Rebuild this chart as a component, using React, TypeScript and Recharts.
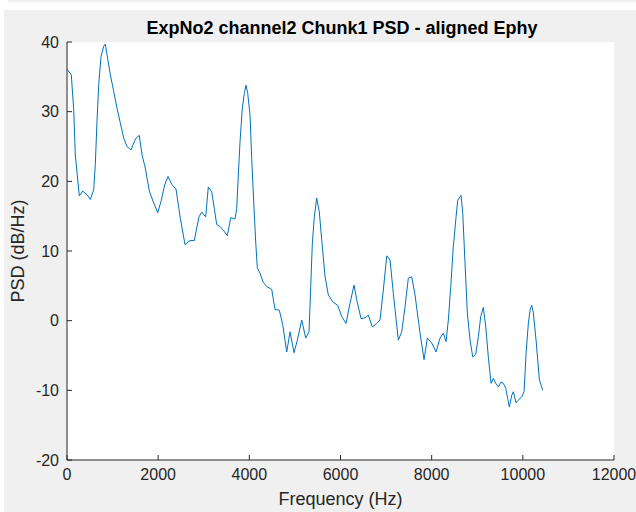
import { LineChart, Line, XAxis, YAxis, Label } from "recharts";

const freqHz = [
  0, 94, 147, 182, 270, 344, 439, 511, 586, 621, 658, 696, 746, 805, 840, 878, 950, 1025, 1097, 1169,
  1244, 1316, 1404, 1463, 1514, 1586, 1646, 1718, 1806, 1902, 1990, 2062, 2144, 2216, 2304, 2391, 2486,
  2589, 2699, 2793, 2846, 2896, 2955, 3043, 3100, 3175, 3232, 3284, 3357, 3429, 3517, 3592, 3686, 3723,
  3758, 3796, 3846, 3890, 3927, 3965, 4015, 4052, 4103, 4140, 4175, 4234, 4307, 4381, 4491, 4564, 4658,
  4733, 4820, 4893, 4980, 5053, 5149, 5237, 5309, 5347, 5382, 5426, 5478, 5535, 5588, 5661, 5733, 5830,
  5939, 6027, 6121, 6209, 6297, 6356, 6450, 6538, 6611, 6698, 6795, 6867, 6940, 7014, 7087, 7159, 7269,
  7343, 7416, 7488, 7563, 7635, 7745, 7833, 7905, 8002, 8096, 8184, 8256, 8316, 8366, 8419, 8475, 8535,
  8572, 8644, 8682, 8732, 8783, 8842, 8901, 8967, 9024, 9077, 9134, 9187, 9243, 9303, 9353, 9406, 9463,
  9522, 9573, 9625, 9669, 9704, 9757, 9792, 9851, 9902, 9976, 10027, 10071, 10121, 10158, 10195, 10231,
  10290, 10363, 10437,
];

const psdDb = [
  36.1, 35.3, 30.3, 23.8, 17.9, 18.6, 18.1, 17.4, 18.8, 22.4, 28.6, 33.9, 37.9, 39.4, 39.7, 38.2, 35.3,
  32.9, 30.5, 28.4, 26.2, 25.0, 24.5, 25.5, 26.2, 26.6, 23.8, 21.9, 18.6, 16.9, 15.5, 17.1, 19.5, 20.7,
  19.5, 18.9, 14.7, 10.9, 11.5, 11.5, 13.3, 14.9, 15.6, 14.9, 19.2, 18.5, 16.1, 13.8, 13.5, 13.0, 12.2,
  14.8, 14.6, 16.1, 20.9, 25.7, 30.5, 32.6, 33.8, 32.6, 29.5, 23.3, 16.1, 11.3, 7.6, 6.8, 5.5, 4.9, 4.5,
  1.6, 1.5, -0.6, -4.5, -1.6, -4.6, -2.8, 0.1, -2.5, -1.6, 4.9, 11.1, 14.9, 17.6, 15.6, 11.6, 6.3, 3.7,
  2.7, 2.2, 0.6, -0.4, 2.5, 5.1, 3.0, 0.3, 0.4, 0.8, -0.9, -0.4, 0.1, 4.4, 9.3, 8.7, 3.9, -2.8, -1.6,
  2.0, 6.1, 6.3, 3.7, -1.8, -5.6, -2.5, -3.2, -4.5, -2.5, -1.8, -3.0, 0.1, 4.9, 10.6, 14.9, 17.3, 18.0,
  15.4, 8.2, 1.1, -2.8, -5.2, -4.8, -2.3, 0.6, 1.9, -0.9, -5.2, -9.0, -8.3, -9.0, -9.5, -8.8, -9.0, -9.7,
  -11.2, -12.4, -10.7, -10.2, -11.8, -11.4, -10.9, -10.2, -4.7, -0.4, 1.5, 2.2, 1.1, -2.8, -8.5, -10.0,
];

const xTicks = [0, 2000, 4000, 6000, 8000, 10000, 12000];
const yTicks = [-20, -10, 0, 10, 20, 30, 40];

const data = freqHz.map((f, i) => ({ f, psd: psdDb[i] }));

const axisColor = "#262626";
const font = "Arial, 'Liberation Sans', Helvetica, sans-serif";

export default function App() {
  return (
    <div style={{ position: "absolute", left: 0, top: 0, width: 636, height: 512, background: "#ffffff", fontFamily: font }}>
      <div style={{ position: "absolute", left: 8, top: 0, width: 628, height: 2, background: "#f0f0f0" }} />
      <div style={{ position: "absolute", left: 4, top: 10, width: 632, height: 502, background: "#f0f0f0" }} />
      <div style={{ position: "absolute", left: 0, top: 0 }}>
        <LineChart width={636} height={512} data={data} margin={{ top: 42, right: 22, bottom: 0, left: 0 }}>
          <rect x={67} y={42} width={547} height={418} fill="#ffffff" />
          <text x={342} y={34} textAnchor="middle" fontSize={18} fontWeight="bold" fill="#000000" fontFamily={font}>
            ExpNo2 channel2 Chunk1 PSD - aligned Ephy
          </text>
          <XAxis
            xAxisId="bottom"
            dataKey="f"
            type="number"
            domain={[0, 12000]}
            ticks={xTicks}
            allowDataOverflow
            height={52}
            stroke={axisColor}
            tickSize={-5}
            tickMargin={14}
            tick={{ fill: axisColor, fontSize: 16, fontFamily: font }}
          >
            <Label value="Frequency (Hz)" position="insideBottom" offset={7} fill={axisColor} fontSize={18} fontFamily={font} />
          </XAxis>
          <XAxis
            xAxisId="top"
            orientation="top"
            type="number"
            domain={[0, 12000]}
            ticks={xTicks}
            height={0}
            stroke={axisColor}
            tickSize={-5}
            tick={false}
          />
          <YAxis
            yAxisId="left"
            type="number"
            domain={[-20, 40]}
            ticks={yTicks}
            width={67}
            stroke={axisColor}
            tickSize={-5}
            tickMargin={13}
            tick={{ fill: axisColor, fontSize: 16, fontFamily: font }}
          >
            <Label value="PSD (dB/Hz)" angle={-90} position="insideLeft" offset={18} fill={axisColor} fontSize={18} fontFamily={font} style={{ textAnchor: "middle" }} />
          </YAxis>
          <YAxis
            yAxisId="right"
            orientation="right"
            type="number"
            domain={[-20, 40]}
            ticks={yTicks}
            width={0}
            stroke={axisColor}
            tickSize={-5}
            tick={false}
          />
          <Line
            xAxisId="bottom"
            yAxisId="left"
            type="linear"
            dataKey="psd"
            stroke="#0072BD"
            strokeWidth={1}
            dot={false}
            isAnimationActive={false}
          />
        </LineChart>
      </div>
    </div>
  );
}
